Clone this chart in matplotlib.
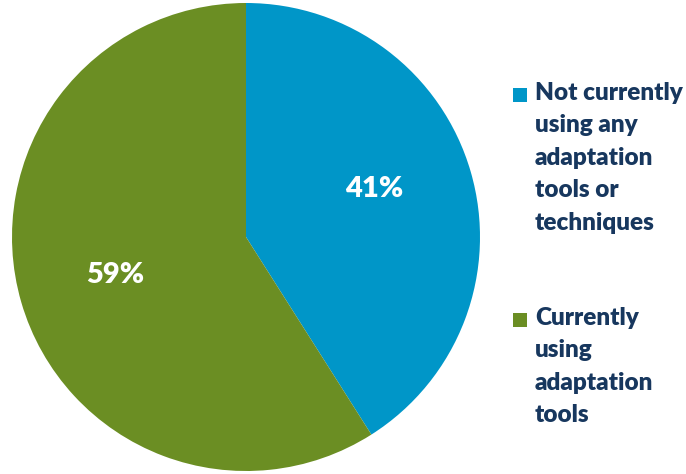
import matplotlib
matplotlib.use("Agg")
import matplotlib.pyplot as plt
from matplotlib.patches import Rectangle

labels = ["Not currently\nusing any\nadaptation\ntools or\ntechniques",
          "Currently\nusing\nadaptation\ntools"]
values = [41, 59]
colors = ["#0096c8", "#6b8e23"]
text_color = "#17375e"

plt.rcParams["font.family"] = ["Lato", "DejaVu Sans"]

fig = plt.figure(figsize=(6.86, 4.74), dpi=100)
ax = fig.add_axes([12 / 686, 3 / 474, 468 / 686, 468 / 474])
wedges, texts, autotexts = ax.pie(
    values, colors=colors, startangle=90, counterclock=False,
    autopct=lambda p: f"{p:.0f}%", pctdistance=0.58,
    wedgeprops=dict(linewidth=0),
    textprops=dict(color="white", fontsize=21, fontweight="heavy"),
)
# lift the smaller slice's label a little toward the top of its wedge
x0, y0 = autotexts[0].get_position()
autotexts[0].set_position((x0 - 0.01, y0 + 0.045))
ax.set_xlim(-1, 1)
ax.set_ylim(-1, 1)
ax.set_aspect("equal")
ax.axis("off")

# legend drawn by hand: square beside the first line of each label
legend_tops = [94, 319]
for lab, col, ytop in zip(labels, colors, legend_tops):
    fig.patches.append(Rectangle((513 / 686, 1 - (ytop + 8) / 474),
                                 14 / 686, 14 / 474, transform=fig.transFigure,
                                 facecolor=col, edgecolor="none"))
    fig.text(535 / 686, 1 - (ytop - 12) / 474, lab, ha="left", va="top",
             fontsize=17.5, fontweight="heavy", color=text_color,
             linespacing=1.58)

fig.savefig("out.png", dpi=100)
